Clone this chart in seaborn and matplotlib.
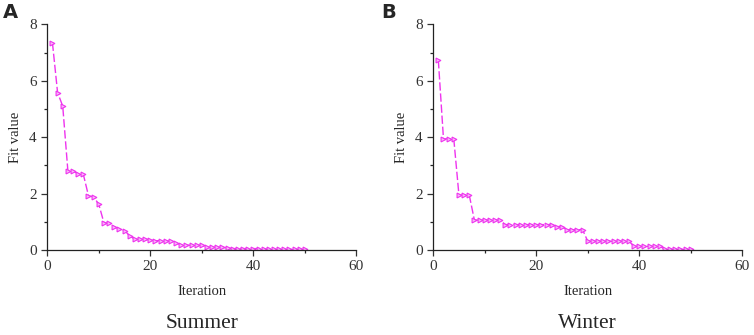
import numpy as np
import pandas as pd
import matplotlib
matplotlib.use('Agg')
import matplotlib.pyplot as plt
import seaborn as sns
from matplotlib.ticker import MultipleLocator

# 迭代次数
iterations = list(range(1, 51))

# 夏季适应度值
summer_fit = [7.35, 5.58, 5.10, 2.80, 2.80, 2.70, 2.68, 1.92, 1.88, 1.62,
              0.96, 0.96, 0.82, 0.75, 0.69, 0.50, 0.38, 0.38, 0.38, 0.35,
              0.33, 0.33, 0.33, 0.31, 0.25, 0.18, 0.17, 0.17, 0.17, 0.17,
              0.10, 0.10, 0.10, 0.10, 0.06, 0.05, 0.05, 0.05, 0.05, 0.05,
              0.05, 0.05, 0.02, 0.02, 0.02, 0.02, 0.02, 0.02, 0.02, 0.02]

# 冬季适应度值
winter_fit = [6.73, 3.94, 3.94, 3.94, 1.95, 1.95, 1.95, 1.06, 1.06, 1.06,
              1.06, 1.06, 1.06, 0.90, 0.90, 0.90, 0.90, 0.90, 0.90, 0.90,
              0.90, 0.90, 0.90, 0.83, 0.83, 0.72, 0.72, 0.72, 0.72, 0.31,
              0.31, 0.31, 0.31, 0.31, 0.31, 0.31, 0.31, 0.31, 0.13, 0.13,
              0.13, 0.13, 0.13, 0.13, 0.02, 0.02, 0.02, 0.02, 0.02, 0.02]

panels = [('A', 'Summer', summer_fit), ('B', 'Winter', winter_fit)]

sns.set_style('ticks')
plt.rcParams['font.family'] = ['Liberation Serif', 'DejaVu Serif']

fig = plt.figure(figsize=(7.54, 3.35), dpi=100)
lefts = [0.0627, 0.5745]
width = 0.41
letter_x = [0.004, 0.505]

for (letter, season, fit), left, lx in zip(panels, lefts, letter_x):
    ax = fig.add_axes([left, 0.2537, width, 0.6738])
    df = pd.DataFrame({'Iteration': iterations, 'Fit value': fit})
    sns.lineplot(data=df, x='Iteration', y='Fit value', ax=ax,
                 color='#ee33ee', linewidth=1.0, dashes=False,
                 linestyle=(0, (6, 2)), marker='>', markersize=3.5,
                 markerfacecolor='#f8b8f8', markeredgecolor='#ee33ee',
                 markeredgewidth=0.8)
    ax.set_xlim(0, 60)
    ax.set_ylim(0, 8)
    ax.xaxis.set_major_locator(MultipleLocator(20))
    ax.xaxis.set_minor_locator(MultipleLocator(10))
    ax.yaxis.set_major_locator(MultipleLocator(2))
    ax.yaxis.set_minor_locator(MultipleLocator(1))
    ax.tick_params(which='major', direction='out', length=4, width=0.9,
                   labelsize=11, colors='#333333')
    ax.tick_params(which='minor', direction='out', length=2.5, width=0.9)
    for s in ['left', 'bottom']:
        ax.spines[s].set_linewidth(0.9)
        ax.spines[s].set_color('#222222')
    sns.despine(ax=ax)
    ax.set_xlabel('Iteration', fontsize=10.5, labelpad=8)
    ax.set_ylabel('Fit value', fontsize=10.5, labelpad=5)
    # 面板字母和季节标题
    fig.text(lx, 0.99, letter, fontsize=14, fontweight='bold',
             family='DejaVu Sans', va='top', ha='left')
    fig.text(left + width / 2, 0.006, season, fontsize=15.5, ha='center',
             va='bottom')

fig.savefig('out.png', dpi=100)
